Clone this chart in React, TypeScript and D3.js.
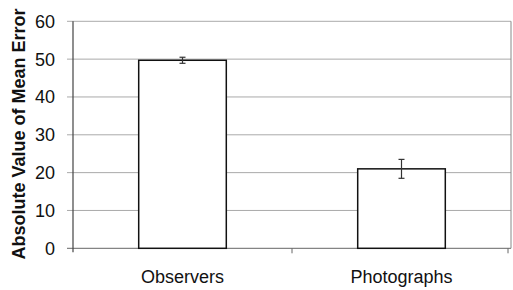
import React from "react";
import * as d3 from "d3";

const categories = ["Observers", "Photographs"];
const values = [49.7, 21.0];
const errors = [0.8, 2.5];
const yTicks = [0, 10, 20, 30, 40, 50, 60];
const yLabel = "Absolute Value of Mean Error";

export default function App() {
  const W = 513, H = 290;
  const left = 73, right = 511, top = 21.3, bottom = 248.3;
  const x = d3.scaleBand<string>().domain(categories).range([left, right]).paddingInner(0).paddingOuter(0);
  const y = d3.scaleLinear().domain([0, 60]).range([bottom, top]);
  const bw = x.bandwidth() * 0.4;
  const font = "Liberation Sans, Arial, sans-serif";
  return (
    <svg width={W} height={H} style={{ position: "absolute", left: 0, top: 0, background: "#fff" }}>
      {yTicks.map((t) => (
        <g key={t}>
          <line x1={left - 6} x2={right} y1={y(t)} y2={y(t)} stroke={t === 0 ? "#666" : "#aaa"} strokeWidth={1} />
          <text x={55} y={y(t)} dy="0.36em" textAnchor="end" fontFamily={font} fontSize={18} fill="#111">{t}</text>
        </g>
      ))}
      <line x1={left} x2={left} y1={top} y2={bottom + 4} stroke="#444" strokeWidth={1.2} />
      <line x1={right} x2={right} y1={top} y2={bottom} stroke="#888" strokeWidth={1} />
      <line x1={x(categories[1])!} x2={x(categories[1])!} y1={bottom} y2={bottom + 5} stroke="#666" strokeWidth={1} />
      <line x1={right - 3} x2={right - 3} y1={bottom} y2={bottom + 5} stroke="#666" strokeWidth={1} />
      {categories.map((c, i) => {
        const cx = x(c)! + x.bandwidth() / 2;
        return (
          <g key={c}>
            <rect x={cx - bw / 2} y={y(values[i])} width={bw} height={bottom - y(values[i])} fill="#fff" stroke="#111" strokeWidth={1.5} />
            <line x1={cx} x2={cx} y1={y(values[i] + errors[i])} y2={y(values[i] - errors[i])} stroke="#333" strokeWidth={1.2} />
            <line x1={cx - 3} x2={cx + 3} y1={y(values[i] + errors[i])} y2={y(values[i] + errors[i])} stroke="#333" strokeWidth={1.2} />
            <line x1={cx - 3} x2={cx + 3} y1={y(values[i] - errors[i])} y2={y(values[i] - errors[i])} stroke="#333" strokeWidth={1.2} />
            <text x={cx} y={283} textAnchor="middle" fontFamily={font} fontSize={18} fill="#111">{c}</text>
          </g>
        );
      })}
      <text transform={`translate(25,134) rotate(-90)`} textAnchor="middle" fontFamily={font} fontWeight="bold" fontSize={18} fill="#111">{yLabel}</text>
    </svg>
  );
}
